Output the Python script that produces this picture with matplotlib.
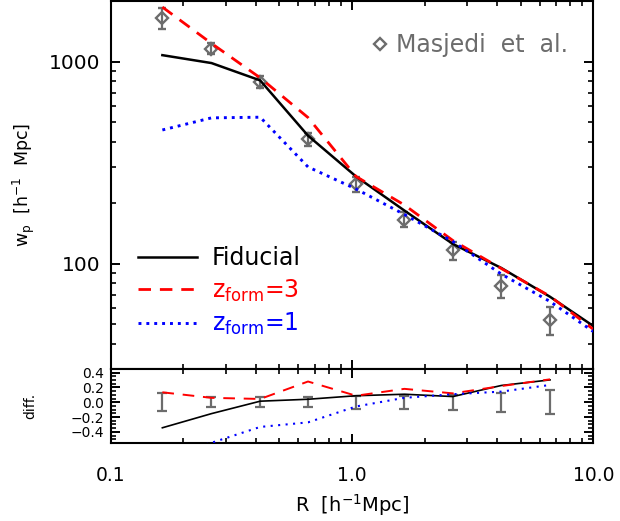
import numpy as np
import matplotlib
matplotlib.use("Agg")
import matplotlib.pyplot as plt
from matplotlib.lines import Line2D
from matplotlib.ticker import (FixedLocator, FixedFormatter, LogLocator,
                               MultipleLocator, NullFormatter)

# Projected correlation function of LRGs (Masjedi et al.)
r_obs = np.array([0.164, 0.262, 0.417, 0.658, 1.04, 1.65, 2.62, 4.16, 6.62])
wp_obs = np.array([1644, 1163, 796, 413, 248, 165, 116, 77.4, 52.5])
frac_err = np.array([0.12, 0.065, 0.065, 0.07, 0.085, 0.085, 0.105, 0.13, 0.16])

# Model predictions
r_model = np.array([0.164, 0.262, 0.417, 0.658, 1.04, 1.65, 2.62, 4.16, 6.62, 10.0])
wp_fiducial = np.array([1078, 985, 808, 430, 270, 183, 125, 95.0, 68.4, 49.0])
wp_zform3 = np.array([1866, 1233, 832, 529, 270, 195, 130, 94.4, 68.8, 47.2])
wp_zform1 = np.array([459, 527, 531, 301, 234, 175, 128.6, 88.6, 64.8, 46.0])

x_ticks = [0.1, 1.0, 10.0]
x_ticklabels = ["0.1", "1.0", "10.0"]
wp_ticks = [100, 1000]
wp_ticklabels = ["100", "1000"]
diff_ticks = [-0.4, -0.2, 0.0, 0.2, 0.4]
diff_ticklabels = ["\u22120.4", "\u22120.2", "0.0", "0.2", "0.4"]

GRAY = "#6c6c6c"
plt.rcParams["font.family"] = ["DejaVu Sans"]
plt.rcParams["mathtext.fontset"] = "dejavusans"

W, H = 620, 521
fig = plt.figure(figsize=(W / 100, H / 100), dpi=100)
x0, x1 = 110.5, 593.3
ax1 = fig.add_axes([x0 / W, 1 - 369 / H, (x1 - x0) / W, 368 / H])
ax2 = fig.add_axes([x0 / W, 1 - 443 / H, (x1 - x0) / W, 74 / H])

styles = {
    "fid": dict(color="black", ls="-", lw=1.8),
    "z3": dict(color="red", ls=(0, (4.5, 3.2)), lw=2.0),
    "z1": dict(color="blue", ls=(0, (1, 1.7)), lw=2.1),
}

# ---- upper panel: w_p(R)
ax1.errorbar(r_obs, wp_obs, yerr=wp_obs * frac_err, fmt="D", mfc="none",
             mec=GRAY, ms=6.5, mew=1.7, ecolor=GRAY, elinewidth=1.6,
             capsize=3.2, capthick=1.6, zorder=2)
l_fid, = ax1.plot(r_model, wp_fiducial, zorder=3, **styles["fid"])
l_z3, = ax1.plot(r_model, wp_zform3, zorder=3, **styles["z3"])
l_z1, = ax1.plot(r_model, wp_zform1, zorder=3, **styles["z1"])

ax1.set_xscale("log")
ax1.set_yscale("log")
ax1.set_xlim(0.1, 10.0)
ax1.set_ylim(30, 2000)
ax1.yaxis.set_major_locator(FixedLocator(wp_ticks))
ax1.yaxis.set_major_formatter(FixedFormatter(wp_ticklabels))
ax1.yaxis.set_minor_locator(LogLocator(base=10, subs=np.arange(2, 10)))
ax1.yaxis.set_minor_formatter(NullFormatter())
ax1.xaxis.set_major_locator(FixedLocator(x_ticks))
ax1.xaxis.set_minor_locator(LogLocator(base=10, subs=np.arange(2, 10)))
ax1.xaxis.set_minor_formatter(NullFormatter())
ax1.tick_params(axis="x", labelbottom=False)
ax1.tick_params(axis="y", labelsize=14.5, pad=7)
ax1.set_ylabel(r"w$_{\rm p}$  [h$^{-1}$  Mpc]", fontsize=12.5)
ax1.yaxis.set_label_coords(-0.152, 0.5)

obs_handle = Line2D([], [], marker="D", ls="none", mfc="none", mec=GRAY,
                    ms=6.5, mew=1.7)
leg1 = ax1.legend([obs_handle], ["Masjedi  et  al."], loc="center left",
                  bbox_to_anchor=(0.538, 0.880), frameon=False, fontsize=17,
                  handlelength=0.8, handletextpad=0.3, borderpad=0,
                  borderaxespad=0, labelcolor=GRAY)
ax1.add_artist(leg1)
ax1.legend([l_fid, l_z3, l_z1],
           ["Fiducial", r"z$_{\rm form}$=3", r"z$_{\rm form}$=1"],
           loc="upper left", bbox_to_anchor=(0.0563, 0.333), frameon=False,
           fontsize=17, handlelength=2.5, handletextpad=0.64, borderpad=0,
           borderaxespad=0, labelspacing=0.3, labelcolor="linecolor")

# ---- lower panel: fractional difference
ax2.errorbar(r_obs, np.zeros_like(r_obs), yerr=frac_err, fmt="none",
             ecolor=GRAY, elinewidth=1.6, capsize=3.6, capthick=1.6, zorder=2)
n = len(r_obs)
ax2.plot(r_obs, wp_fiducial[:n] / wp_obs - 1, zorder=3,
         **dict(styles["fid"], lw=1.2))
ax2.plot(r_obs, wp_zform3[:n] / wp_obs - 1, zorder=3,
         **dict(styles["z3"], lw=1.4, ls=(0, (6, 4.5))))
ax2.plot(r_obs, wp_zform1[:n] / wp_obs - 1, zorder=3,
         **dict(styles["z1"], lw=1.5, ls=(0, (1, 2.6))))

ax2.set_xscale("log")
ax2.set_xlim(0.1, 10.0)
ax2.set_ylim(-0.55, 0.45)
ax2.xaxis.set_major_locator(FixedLocator(x_ticks))
ax2.xaxis.set_major_formatter(FixedFormatter(x_ticklabels))
ax2.xaxis.set_minor_locator(LogLocator(base=10, subs=np.arange(2, 10)))
ax2.xaxis.set_minor_formatter(NullFormatter())
ax2.yaxis.set_major_locator(FixedLocator(diff_ticks))
ax2.yaxis.set_major_formatter(FixedFormatter(diff_ticklabels))
ax2.yaxis.set_minor_locator(MultipleLocator(0.05))
ax2.tick_params(axis="x", labelsize=13.5, pad=16.5)
ax2.tick_params(axis="y", labelsize=10, pad=5)
ax2.set_xlabel(r"R  [h$^{-1}$Mpc]", fontsize=14, labelpad=5)
ax2.set_ylabel("diff.", fontsize=10)
ax2.yaxis.set_label_coords(-0.152, 0.5)

for ax in (ax1, ax2):
    for sp in ax.spines.values():
        sp.set_linewidth(1.5)
    ax.tick_params(which="both", direction="in", top=True, right=True)
    ax.tick_params(which="major", length=6.5, width=1.4)
    ax.tick_params(which="minor", length=3.4, width=1.2)

fig.savefig("out.png", dpi=100)
